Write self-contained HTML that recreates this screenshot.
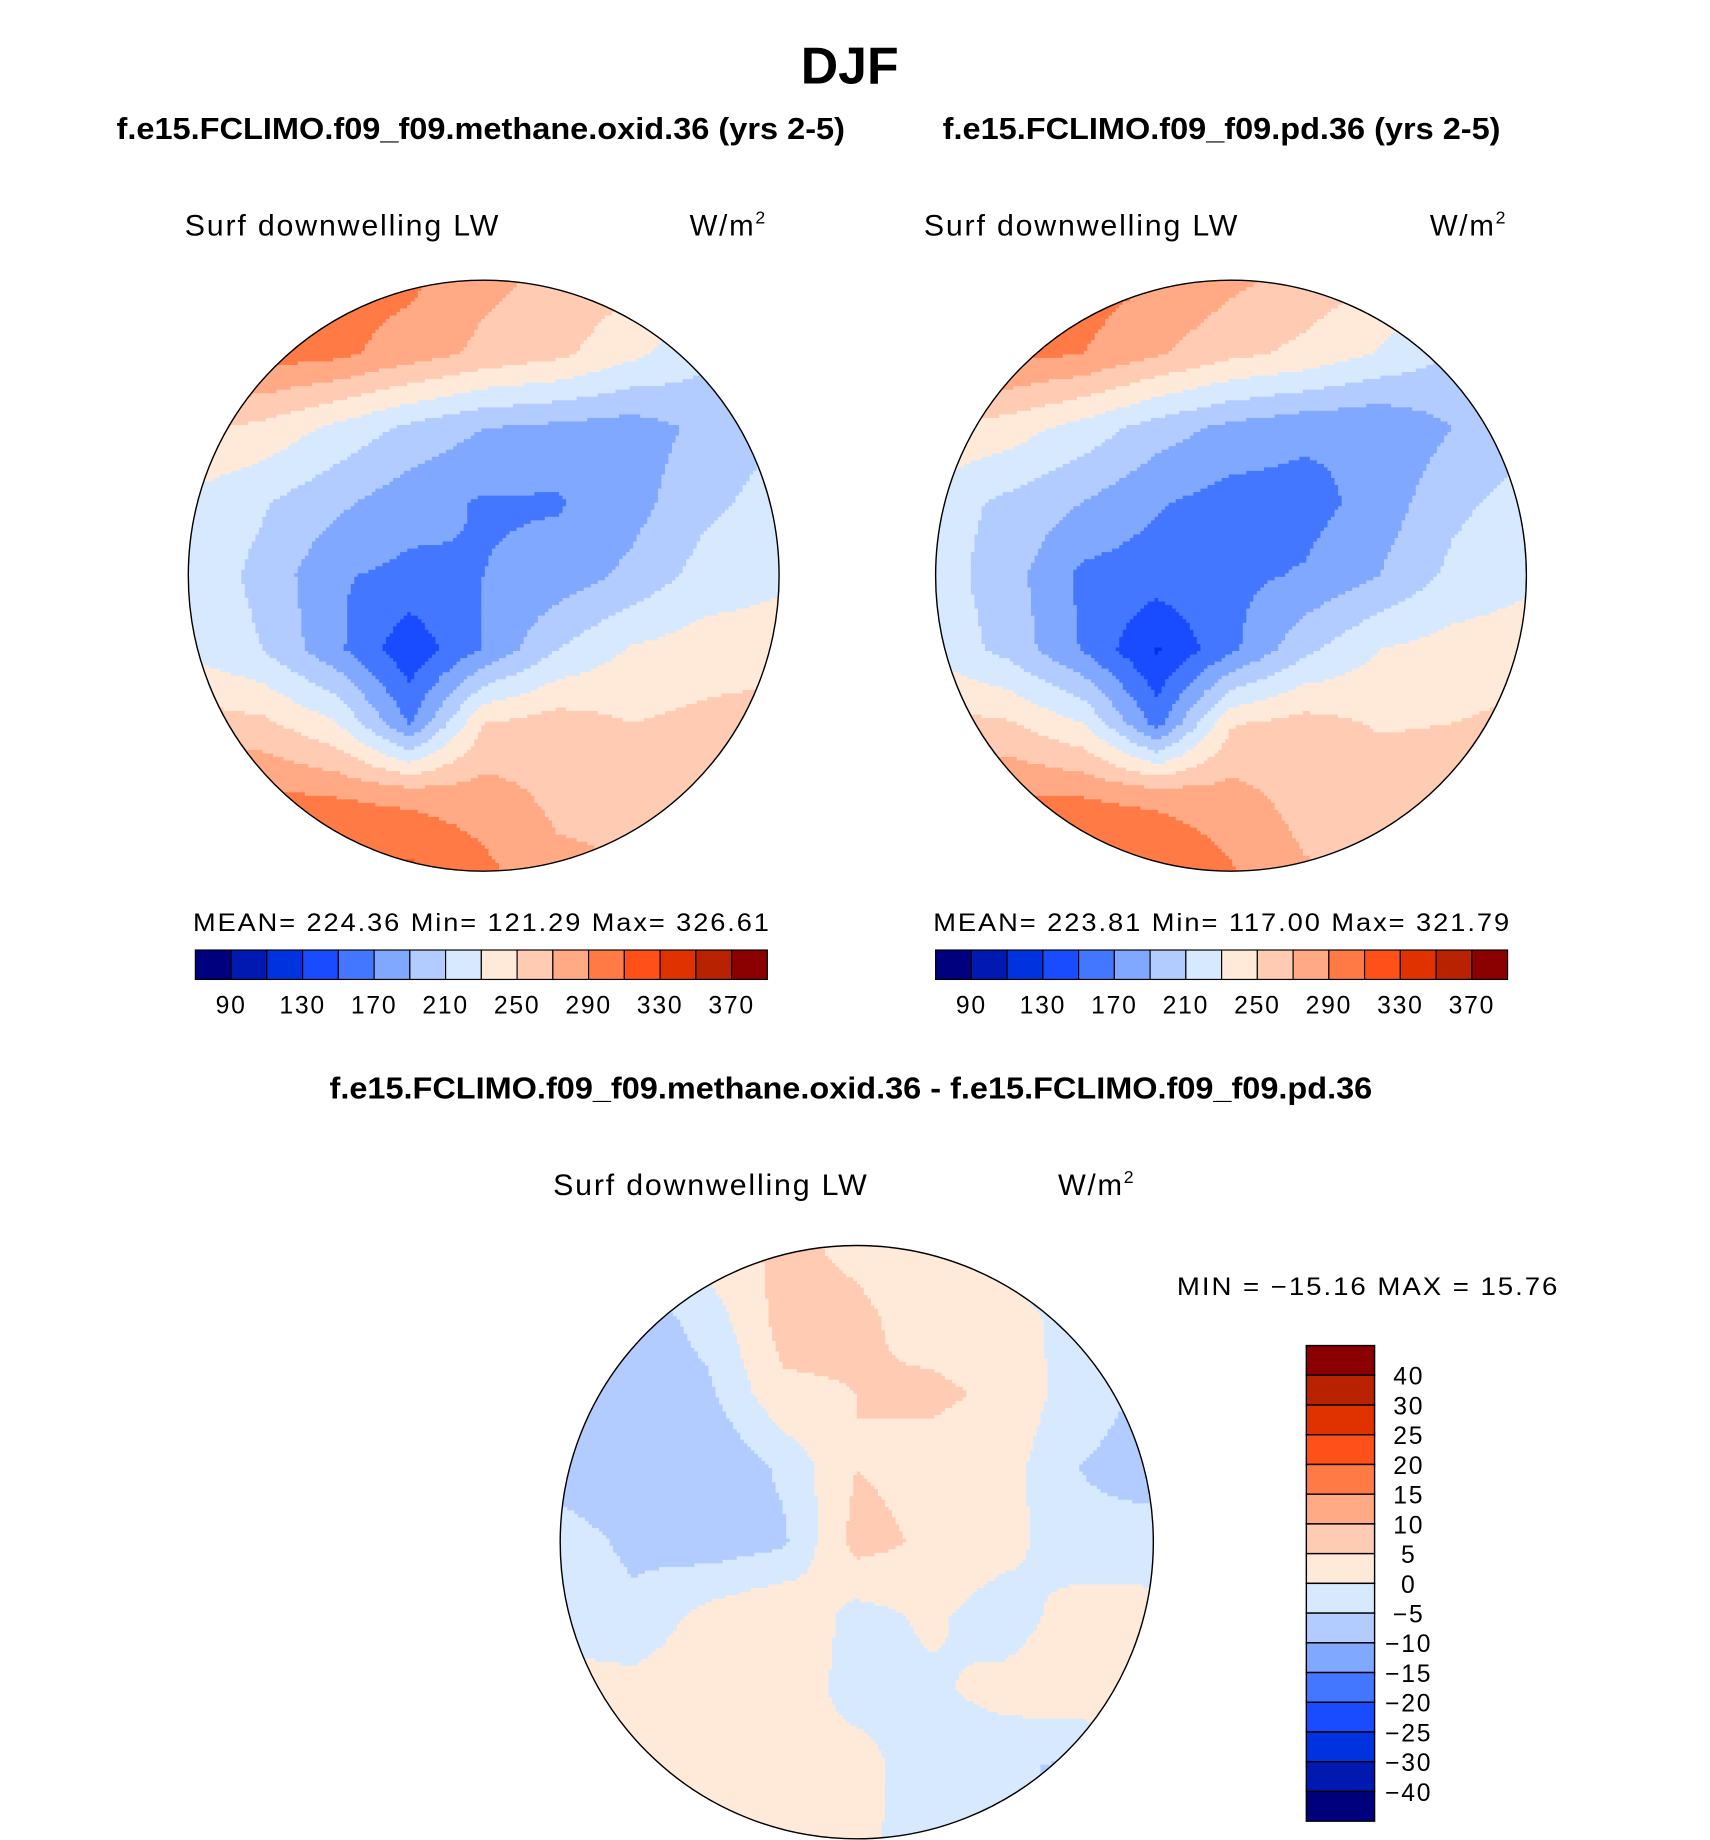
<!DOCTYPE html>
<html><head><meta charset="utf-8"><style>
html,body{margin:0;padding:0;background:#fff}
svg{display:block}
.b{font-family:"Liberation Sans",sans-serif;font-weight:bold}
.t{font-family:"Liberation Sans",sans-serif;font-weight:normal;letter-spacing:1.5px}
</style></head><body>
<svg id="fig" width="1710" height="1840" viewBox="0 0 1453 1563" preserveAspectRatio="none" xmlns="http://www.w3.org/2000/svg">
<defs>
<clipPath id="c1"><circle cx="411" cy="489" r="251"/></clipPath>
<clipPath id="c2"><circle cx="1046" cy="489" r="251"/></clipPath>
<clipPath id="c3"><circle cx="728" cy="1310" r="252"/></clipPath>
</defs>
<text class="b" x="722" y="71" font-size="44" text-anchor="middle">DJF</text>
<text class="b" x="99" y="118" font-size="26" textLength="619" lengthAdjust="spacingAndGlyphs">f.e15.FCLIMO.f09_f09.methane.oxid.36 (yrs 2-5)</text>
<text class="b" x="801" y="118" font-size="26" textLength="474" lengthAdjust="spacingAndGlyphs">f.e15.FCLIMO.f09_f09.pd.36 (yrs 2-5)</text>
<text class="t" x="157" y="200" font-size="25" textLength="268" lengthAdjust="spacingAndGlyphs">Surf downwelling LW</text>
<text class="t" x="586" y="200" font-size="25">W/m<tspan dy="-10" font-size="15">2</tspan></text>
<text class="t" x="785" y="200" font-size="25" textLength="268" lengthAdjust="spacingAndGlyphs">Surf downwelling LW</text>
<text class="t" x="1215" y="200" font-size="25">W/m<tspan dy="-10" font-size="15">2</tspan></text>
<g id="map1" clip-path="url(#c1)"></g>
<circle cx="411" cy="489" r="251" fill="none" stroke="#000" stroke-width="1.2"/>
<g id="map2" clip-path="url(#c2)"></g>
<circle cx="1046" cy="489" r="251" fill="none" stroke="#000" stroke-width="1.2"/>
<text class="t" x="164" y="791" font-size="21" textLength="491" lengthAdjust="spacingAndGlyphs">MEAN= 224.36   Min= 121.29   Max= 326.61</text>
<text class="t" x="793" y="791" font-size="21" textLength="491" lengthAdjust="spacingAndGlyphs">MEAN= 223.81   Min= 117.00   Max= 321.79</text>
<g id="cb1"></g>
<g id="cb2"></g>
<text class="b" x="280" y="933" font-size="26" textLength="886" lengthAdjust="spacingAndGlyphs">f.e15.FCLIMO.f09_f09.methane.oxid.36 - f.e15.FCLIMO.f09_f09.pd.36</text>
<text class="t" x="470" y="1015" font-size="25" textLength="268" lengthAdjust="spacingAndGlyphs">Surf downwelling LW</text>
<text class="t" x="899" y="1015" font-size="25">W/m<tspan dy="-10" font-size="15">2</tspan></text>
<g id="map3" clip-path="url(#c3)"></g>
<circle cx="728" cy="1310" r="252" fill="none" stroke="#000" stroke-width="1.2"/>
<text class="t" x="1000" y="1100" font-size="21" textLength="325" lengthAdjust="spacingAndGlyphs">MIN = −15.16 MAX =  15.76</text>
<g id="cb3"></g>
</svg>
<script>
const palette=["#00007f","#0019b0","#0033e0","#1a4cff","#4477ff","#80a8ff","#b3ccff","#d6e9ff","#ffead9","#ffcbb3","#ffaa84","#ff7a45","#ff5019","#e03200","#b82200","#8b0000"];
const absLevels=[90,110,130,150,170,190,210,230,250,270,290,310,330,350,370];
const absTickLabels=["90","130","170","210","250","290","330","370"];
const diffLevels=[-40,-30,-25,-20,-15,-10,-5,0,5,10,15,20,25,30,40];
const diffTickLabels=["−40","−30","−25","−20","−15","−10","−5","0","5","10","15","20","25","30","40"];
// 9x9 grids (rows top->bottom, cols left->right) across each map's bounding square
const map1Values=[
[300,300,300,295,275,265,255,235,220],
[295,300,295,280,265,255,235,215,205],
[255,245,225,205,190,185,180,195,210],
[225,212,195,178,168,168,182,205,218],
[222,205,172,165,170,178,195,218,226],
[226,210,175,135,172,210,232,240,240],
[260,255,232,168,250,260,250,255,260],
[295,295,290,285,280,265,265,265,260],
[315,315,315,315,295,275,270,265,260]];
const map2Values=[
[300,300,300,290,275,262,250,232,218],
[292,296,290,272,255,245,228,208,200],
[250,240,222,200,184,175,172,190,205],
[220,205,190,172,162,162,178,205,218],
[220,198,165,160,165,172,190,215,226],
[224,203,168,128,165,205,230,238,240],
[258,252,230,162,248,258,248,250,255],
[292,292,290,285,278,262,262,262,258],
[312,312,312,312,292,272,268,262,258]];
const map3Values=[
[-3,-2,3,6,4,2,-2,-3,-3],
[-6,-8,-3,7,6,3,2,-2,-4],
[-8,-9,-6,4,5,6,4,-3,-6],
[-7,-8,-10,-4,5,3,2,-5,-7],
[-3,-6,-8,-6,7,4,2,-4,-3],
[-2,-4,2,5,-2,1,-3,3,2],
[2,2,4,3,-2,-1,2,4,3],
[2,3,2,1,2,-3,-4,-6,-3],
[2,3,2,1,1,-2,-5,-6,-3]];

const NS="http://www.w3.org/2000/svg";
function levelIndex(v,levels){let i=0;while(i<levels.length&&v>=levels[i])i++;return i;}
function sample(grid,u,v){
  const n=grid.length-1;u=Math.max(0,Math.min(n,u));v=Math.max(0,Math.min(n,v));
  const i=Math.min(n-1,Math.floor(v)),j=Math.min(n-1,Math.floor(u));const fu=u-j,fv=v-i;
  return grid[i][j]*(1-fu)*(1-fv)+grid[i][j+1]*fu*(1-fv)+grid[i+1][j]*(1-fu)*fv+grid[i+1][j+1]*fu*fv;
}
function addRun(g,x,y,w,h,c){
  const rc=document.createElementNS(NS,"rect");
  
  
  rc.setAttribute("x",x);rc.setAttribute("y",y);rc.setAttribute("width",w+0.6);rc.setAttribute("height",h+0.6);rc.setAttribute("fill",c);g.appendChild(rc);
}
function drawMap(id,grid,levels,cx,cy,r){
  const g=document.getElementById(id);const cell=3;const x0=cx-r,y0=cy-r,size=2*r,step=size/(grid.length-1);
  for(let y=y0;y<y0+size;y+=cell){
    let runStart=x0,runCol=null,x;
    for(x=x0;x<x0+size;x+=cell){
      const c=palette[levelIndex(sample(grid,(x+cell/2-x0)/step,(y+cell/2-y0)/step),levels)];
      if(c!==runCol){
        if(runCol)addRun(g,runStart,y,x-runStart,cell,runCol);
        runStart=x;runCol=c;}
    }
    if(runCol)addRun(g,runStart,y,x-runStart,cell,runCol);
  }
}
drawMap("map1",map1Values,absLevels,411,489,251);
drawMap("map2",map2Values,absLevels,1046,489,251);
drawMap("map3",map3Values,diffLevels,728,1310,252);

function hBar(id,x0,w,y,h){
  const g=document.getElementById(id);const bw=w/palette.length;
  palette.forEach((c,i)=>{const r=document.createElementNS(NS,"rect");
    
    
    r.setAttribute("x",x0+i*bw);r.setAttribute("y",y);r.setAttribute("width",bw);r.setAttribute("height",h);r.setAttribute("fill",c);r.setAttribute("stroke","#000");r.setAttribute("stroke-width","1");g.appendChild(r);});
  absTickLabels.forEach((lab)=>{const t=document.createElementNS(NS,"text");
    
    
    const bi=absLevels.indexOf(+lab)+1;
    t.setAttribute("x",x0+bi*bw);t.setAttribute("y",y+h+29);t.setAttribute("text-anchor","middle");t.setAttribute("font-size","21");t.setAttribute("class","t");t.textContent=lab;g.appendChild(t);});
}
hBar("cb1",166,486,807,25);
hBar("cb2",795,486,807,25);
(function(){
  const g=document.getElementById("cb3");const x0=1110,w=58,y0=1143,h=404,bh=h/palette.length;
  palette.slice().reverse().forEach((c,i)=>{const r=document.createElementNS(NS,"rect");
    
    
    r.setAttribute("x",x0);r.setAttribute("y",y0+i*bh);r.setAttribute("width",w);r.setAttribute("height",bh);r.setAttribute("fill",c);r.setAttribute("stroke","#000");r.setAttribute("stroke-width","1.2");g.appendChild(r);});
  diffTickLabels.slice().reverse().forEach((lab,i)=>{const t=document.createElementNS(NS,"text");
    
    
    t.setAttribute("x",1197);t.setAttribute("y",y0+(i+1)*bh+8);t.setAttribute("text-anchor","middle");t.setAttribute("font-size","21");t.setAttribute("class","t");t.textContent=lab;g.appendChild(t);});
})();
</script>
</body></html>
